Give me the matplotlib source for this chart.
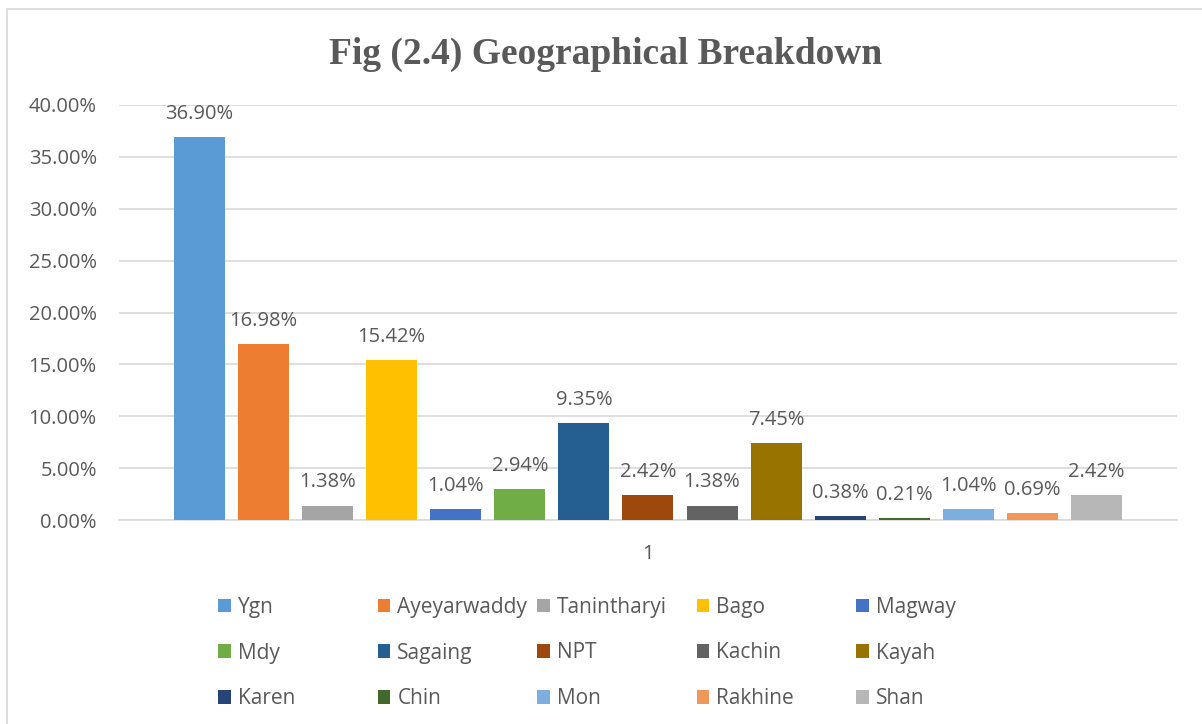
import matplotlib
matplotlib.use("Agg")
import matplotlib.pyplot as plt
from matplotlib.patches import Patch, Rectangle
from matplotlib.ticker import FuncFormatter
import numpy as np

REGIONS = ["Ygn", "Ayeyarwaddy", "Tanintharyi", "Bago", "Magway",
           "Mdy", "Sagaing", "NPT", "Kachin", "Kayah",
           "Karen", "Chin", "Mon", "Rakhine", "Shan"]
SHARE_PCT = [36.90, 16.98, 1.38, 15.42, 1.04,
             2.94, 9.35, 2.42, 1.38, 7.45,
             0.38, 0.21, 1.04, 0.69, 2.42]
COLORS = ["#5B9BD5", "#ED7D31", "#A5A5A5", "#FFC000", "#4472C4",
          "#70AD47", "#255E91", "#9E480E", "#636363", "#997300",
          "#264478", "#43682B", "#7CAFDD", "#F1975A", "#B7B7B7"]
CATEGORY = "1"
TITLE = "Fig (2.4) Geographical Breakdown"
YTICKS = [0, 5, 10, 15, 20, 25, 30, 35, 40]

TEXT = "#595959"
GRID = "#D9D9D9"
W, H = 1202, 724

plt.rcParams["font.family"] = ["Open Sans", "DejaVu Sans"]

fig = plt.figure(figsize=(W / 100, H / 100), dpi=100)

# outer chart-area frame (only left and top edges fall inside the image)
fig.patches.append(Rectangle((7 / W, -0.2), 1.2, 1.2 - 9 / H, transform=fig.transFigure,
                             fill=False, edgecolor=GRID, linewidth=1.2))

ax = fig.add_axes([119 / W, 1 - 520 / H, (1177 - 119) / W, (520 - 105) / H])
x = np.arange(len(REGIONS))
bars = ax.bar(x, SHARE_PCT, width=0.796, color=COLORS, zorder=3)
ax.bar_label(bars, labels=[f"{v:.2f}%" for v in SHARE_PCT], padding=9.5,
             fontsize=14.5, color=TEXT)

ax.set_xlim(-1.256, 15.257)
ax.set_ylim(0, 40)
ax.set_yticks(YTICKS)
ax.yaxis.set_major_formatter(FuncFormatter(lambda v, _: f"{v:.2f}%"))
ax.set_xticks([(len(REGIONS) - 1) / 2])
ax.set_xticklabels([CATEGORY])
ax.tick_params(axis="y", length=0, pad=16, labelsize=14.5, labelcolor=TEXT)
ax.tick_params(axis="x", length=0, pad=17, labelsize=14.5, labelcolor=TEXT)
ax.grid(axis="y", color=GRID, linewidth=1.2, zorder=0)
for side in ("left", "right", "top"):
    ax.spines[side].set_visible(False)
ax.spines["bottom"].set_color(GRID)
ax.spines["bottom"].set_linewidth(1.2)

fig.text(606 / W, 1 - 64 / H, TITLE, ha="center", va="baseline",
         fontsize=27, fontweight="bold", color=TEXT, family="Liberation Serif")

# legend: five columns, filled row by row like the original
handles = [Patch(facecolor=c, edgecolor="none") for c in COLORS]
col_x = [218, 377.5, 537, 696.5, 856]
for j, cx in enumerate(col_x):
    fig.legend(handles[j::5], REGIONS[j::5], loc="center left",
               bbox_to_anchor=(cx / W, 1 - 653 / H), frameon=False,
               fontsize=15, labelcolor=TEXT, handlelength=0.62, handleheight=0.62,
               handletextpad=0.33, labelspacing=1.18, borderpad=0, borderaxespad=0)

fig.savefig("out.png", dpi=100)
